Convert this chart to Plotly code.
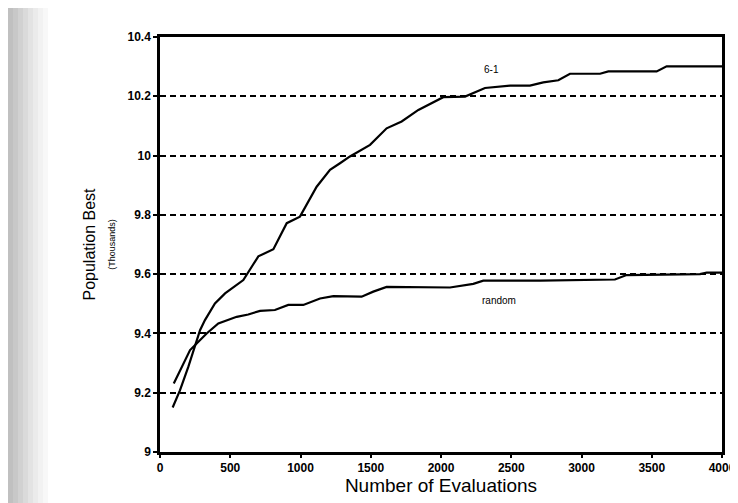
import plotly.graph_objects as go

# ---- data ----
evals_61 = [90, 142, 202, 249, 285, 320, 391, 463, 593, 700, 807, 902, 996, 1115, 1210,
            1281, 1352, 1495, 1613, 1720, 1839, 2016, 2171, 2313, 2491, 2633, 2728, 2835,
            2918, 3132, 3191, 3535, 3606, 4000]
best_61 = [9.150, 9.208, 9.288, 9.355, 9.411, 9.445, 9.501, 9.535, 9.580, 9.660, 9.684,
           9.772, 9.794, 9.895, 9.952, 9.974, 9.997, 10.036, 10.092, 10.115, 10.154,
           10.197, 10.199, 10.228, 10.236, 10.236, 10.247, 10.254, 10.276, 10.276,
           10.284, 10.284, 10.301, 10.301]

evals_rand = [98, 166, 214, 261, 332, 415, 546, 628, 712, 818, 913, 1020, 1139, 1234,
              1435, 1518, 1613, 2064, 2230, 2301, 2705, 3238, 3321, 3843, 3891, 4000]
best_rand = [9.231, 9.299, 9.344, 9.366, 9.400, 9.434, 9.456, 9.464, 9.476, 9.479, 9.496,
             9.496, 9.518, 9.526, 9.524, 9.541, 9.557, 9.555, 9.567, 9.578, 9.578, 9.582,
             9.597, 9.600, 9.605, 9.605]

x_ticks = [0, 500, 1000, 1500, 2000, 2500, 3000, 3500, 4000]
y_ticks = [9, 9.2, 9.4, 9.6, 9.8, 10, 10.2, 10.4]
y_tick_labels = ["9", "9.2", "9.4", "9.6", "9.8", "10", "10.2", "10.4"]

series_labels = ["6-1", "random"]
label_pos_x = [2360, 2410]
label_pos_y = [10.29, 9.51]

FONT = "Liberation Sans Narrow, Arial Narrow, Liberation Sans, Arial, sans-serif"
TITLE_FONT = "Liberation Sans, Arial, sans-serif"

fig = go.Figure()
fig.add_trace(go.Scatter(x=evals_61, y=best_61, mode="lines",
                         line=dict(color="black", width=2.2), showlegend=False))
fig.add_trace(go.Scatter(x=evals_rand, y=best_rand, mode="lines",
                         line=dict(color="black", width=2.2), showlegend=False))

for t, lx, ly in zip(series_labels, label_pos_x, label_pos_y):
    fig.add_annotation(x=lx, y=ly, text=t, showarrow=False,
                       font=dict(family=FONT, size=10, color="black"))

# scanned-page grey strip on the left edge
greys = ["#c0c0c0", "#c8c8c8", "#d1d1d1", "#dadada", "#e3e3e3", "#ebebeb",
         "#f2f2f2", "#f8f8f8"]
plot_left, plot_w = 152, 562
for i, g in enumerate(greys):
    x0 = (i * 5 - plot_left) / plot_w
    x1 = ((i + 1) * 5 - plot_left) / plot_w
    fig.add_shape(type="rect", xref="paper", yref="paper", x0=x0, x1=x1,
                  y0=-0.2, y1=1.2, fillcolor=g, line=dict(width=0), layer="below")

fig.update_layout(
    width=730, height=495,
    margin=dict(l=152, r=16, t=29, b=51, autoexpand=False),
    paper_bgcolor="white", plot_bgcolor="white",
    font=dict(family=FONT, color="black"),
    xaxis=dict(range=[0, 4000], tickvals=x_ticks, ticks="outside", ticklen=3,
               tickwidth=2, tickcolor="black", showgrid=False, zeroline=False,
               showline=True, linecolor="black", linewidth=2.5, mirror=True,
               automargin=False,
               tickfont=dict(family=FONT, size=12, color="black", weight="bold"),
               title=dict(text="Number of Evaluations", standoff=2,
                          font=dict(family=TITLE_FONT, size=19))),
    yaxis=dict(range=[9, 10.4], tickvals=y_ticks, ticktext=y_tick_labels,
               ticks="outside", ticklen=4, tickwidth=2, tickcolor="black",
               showgrid=True, gridcolor="black", gridwidth=2, griddash="6px,4px",
               zeroline=False, showline=True, linecolor="black", linewidth=2.5, mirror=True,
               automargin=False,
               tickfont=dict(family=FONT, size=12, color="black", weight="bold"),
               title=dict(text="Population Best<br><span style='font-size:9px'>(Thousands)</span>",
                          standoff=8,
                          font=dict(family=TITLE_FONT, size=16))),
)

fig.write_html("out.html")
